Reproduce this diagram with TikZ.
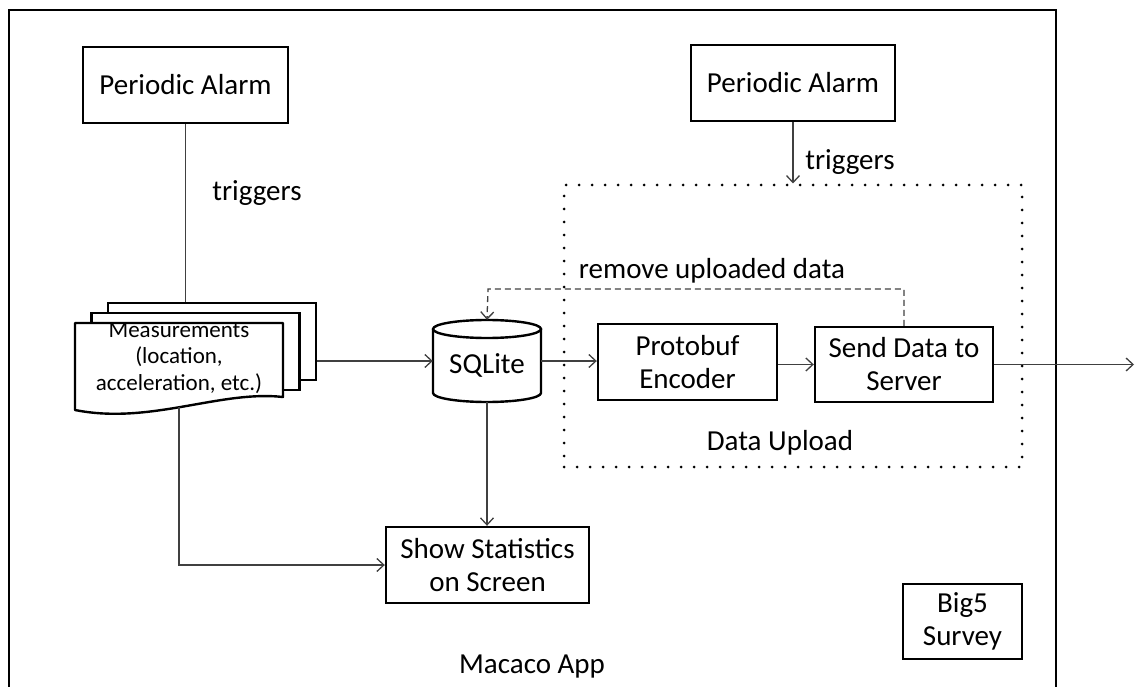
\documentclass[tikz,border=0pt]{standalone}
\usepackage{fontspec}
\setmainfont{Carlito}
\usetikzlibrary{arrows.meta}
\begin{document}
\begin{tikzpicture}[x=1pt,y=-1pt,
  box/.style={draw=black,line width=2.4pt,fill=white,minimum width=#1,inner sep=0pt,align=center,font=\fontsize{29}{33}\selectfont},
  lbl/.style={inner sep=0pt,font=\fontsize{29}{33}\selectfont},
  conn/.style={draw=black!75,line width=1.3pt},
  arr/.style={conn,-{Straight Barb[length=7pt,width=13pt,line width=1.3pt]}},
  sheet/.style={draw=black,line width=2.4pt,fill=white,inner sep=0pt,minimum width=208pt}
]
\useasboundingbox (0,0) rectangle (1135,687);
% outer frame (open at the bottom)
\draw[line width=2.4pt] (9,700) -- (9,10) -- (1056,10) -- (1056,700);

% data upload dotted region
\node[draw=black,line width=3pt,dash pattern=on 0pt off 13pt,line cap=round,
  minimum width=458pt,minimum height=282pt,inner sep=0pt] (upload) at (793,326) {};

% periodic alarms
\node[box=205pt,minimum height=76pt] (alarm1) at (185.5,85) {Periodic Alarm};
\node[box=204pt,minimum height=76pt] (alarm2) at (793,83) {Periodic Alarm};

% measurement stack
\node[sheet,minimum height=77pt] (meas3) at (212,341.5) {};
\node[sheet,minimum height=77pt] (meas2) at (195.5,351.5) {};
\fill[white] (75,323) -- (283,323) -- (283,397) .. controls (220,390) and (150,425) .. (75,410) -- cycle;
\draw[line width=2.4pt,line join=round] (75,323) -- (283,323) -- (283,397) .. controls (220,390) and (150,425) .. (75,410) -- cycle;
\node[inner sep=0pt,minimum width=208pt,minimum height=84pt] (meas) at (179,365) {};
\node[inner sep=0pt,align=center,font=\fontsize{23}{26.5}\selectfont] (meastext) at (179,358) {Measurements\\(location,\\acceleration, etc.)};

% SQLite cylinder
\draw[line width=2.4pt,fill=white] (433,329) -- (433,393) arc[start angle=180,end angle=360,x radius=54,y radius=-9] -- (541,329);
\draw[line width=2.4pt,fill=white] (487,329) ellipse[x radius=54,y radius=9];
\node[inner sep=0pt,minimum width=108pt,minimum height=82pt] (sql) at (487,361) {};
\node[lbl] (sqltext) at (487,365) {SQLite};

% process boxes
\node[box=179pt,minimum height=76pt] (proto) at (687.5,362) {Protobuf\\Encoder};
\node[box=178pt,minimum height=75pt] (send) at (904,364.5) {Send Data to\\Server};
\node[box=203pt,minimum height=76pt] (stat) at (487.5,565) {Show Statistics\\on Screen};
\node[box=119pt,minimum height=75pt] (big5) at (962.5,621.5) {Big5\\Survey};

% labels
\node[lbl] (trig1) at (257,193) {triggers};
\node[lbl] (trig2) at (850,162) {triggers};
\node[lbl] (rmlbl) at (712,271) {remove uploaded data};
\node[lbl] (uplbl) at (780,443) {Data Upload};
\node[lbl] (applbl) at (532,667) {Macaco App};

% connectors
\draw[conn] (alarm1.south) -- (alarm1.south |- meas3.north);
\draw[arr] (alarm2.south) -- (upload.north);
\draw[arr] (meas3.east |- sql.west) -- (sql.west);
\draw[arr] (sql.east) -- (proto.west |- sql.east);
\draw[arr] (proto.east |- send.west) -- (send.west);
\coordinate (outr) at (1134,364.5);
\draw[arr] (send.east) -- (outr);
\draw[arr] (sql.south) -- (sql.south |- stat.north);
\draw[arr] (meas.south) |- (stat.west);
\coordinate (rm) at (488,289);
\draw[arr,dashed,dash pattern=on 6pt off 4pt] (send.north) |- (rm) -- (sql.north);
\end{tikzpicture}
\end{document}
